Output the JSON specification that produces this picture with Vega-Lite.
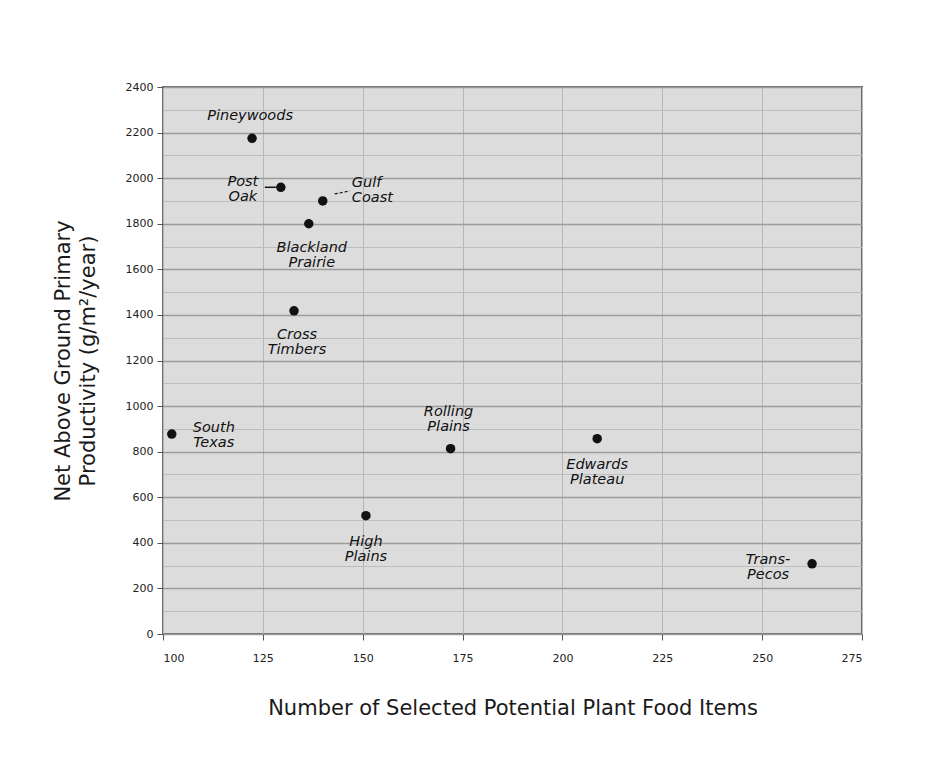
{
  "$schema": "https://vega.github.io/schema/vega-lite/v6.json",
  "autosize": "none",
  "padding": {"left": 163, "top": 87, "right": 73, "bottom": 127},
  "width": 699,
  "height": 547,
  "background": "white",
  "config": {
    "font": "DejaVu Sans",
    "view": {"fill": "#dcdcdc", "stroke": "#6e6e6e", "strokeWidth": 2},
    "text": {"fontStyle": "italic", "fontSize": 14.5, "color": "#111", "lineBreak": "\n", "lineHeight": 15, "baseline": "middle"}
  },
  "data": {
    "values": [
      {"region": "Pineywoods", "label": "Pineywoods", "items": 122.3, "npp": 2175},
      {"region": "Post Oak", "label": "Post\nOak", "items": 129.5, "npp": 1960},
      {"region": "Gulf Coast", "label": "Gulf\nCoast", "items": 140, "npp": 1900},
      {"region": "Blackland Prairie", "label": "Blackland\nPrairie", "items": 136.5, "npp": 1800},
      {"region": "Cross Timbers", "label": "Cross\nTimbers", "items": 132.8, "npp": 1418},
      {"region": "South Texas", "label": "South\nTexas", "items": 102.2, "npp": 877},
      {"region": "Rolling Plains", "label": "Rolling\nPlains", "items": 172, "npp": 813},
      {"region": "Edwards Plateau", "label": "Edwards\nPlateau", "items": 208.7, "npp": 857},
      {"region": "High Plains", "label": "High\nPlains", "items": 150.8, "npp": 519},
      {"region": "Trans-Pecos", "label": "Trans-\nPecos", "items": 262.5, "npp": 308}
    ]
  },
  "encoding": {
    "x": {
      "field": "items", "type": "quantitative",
      "scale": {"domain": [100, 275], "nice": false, "zero": false},
      "axis": {
        "values": [100, 125, 150, 175, 200, 225, 250, 275],
        "title": "Number of Selected Potential Plant Food Items",
        "titleFont": "DejaVu Sans", "titleFontSize": 21, "titleFontWeight": "normal", "titleColor": "#1a1a1a",
        "titlePadding": 34,
        "labelFontSize": 11, "labelColor": "#222", "labelPadding": 12,
        "tickSize": 6, "tickColor": "#555", "domain": false,
        "grid": true, "gridColor": "#b6b6b6", "gridWidth": 1
      }
    },
    "y": {
      "field": "npp", "type": "quantitative",
      "scale": {"domain": [0, 2400], "nice": false},
      "axis": {
        "values": [0, 100, 200, 300, 400, 500, 600, 700, 800, 900, 1000, 1100, 1200, 1300, 1400, 1500, 1600, 1700, 1800, 1900, 2000, 2100, 2200, 2300, 2400],
        "labelExpr": "datum.value % 200 === 0 ? datum.value : ''",
        "title": ["Net Above Ground Primary", "Productivity (g/m²/year)"],
        "titleFont": "DejaVu Sans", "titleFontSize": 21, "titleFontWeight": "normal", "titleColor": "#1a1a1a",
        "titleLineHeight": 25, "titlePadding": 27,
        "labelFontSize": 11, "labelColor": "#222", "labelPadding": 4,
        "tickSize": {"condition": {"test": "datum.value % 200 === 0", "value": 6}, "value": 0},
        "tickColor": "#555", "domain": false,
        "grid": true,
        "gridColor": {"condition": {"test": "datum.value % 200 === 0", "value": "#9c9c9c"}, "value": "#bdbdbd"},
        "gridWidth": {"condition": {"test": "datum.value % 200 === 0", "value": 1.5}, "value": 1}
      }
    }
  },
  "layer": [
    {
      "mark": {"type": "circle", "size": 90, "color": "#111", "opacity": 1}
    },
    {
      "transform": [{"filter": "datum.region === 'Post Oak'"}],
      "mark": {"type": "rule", "color": "#111", "strokeWidth": 1.5, "xOffset": -16, "x2Offset": -5},
      "encoding": {"x2": {"field": "items"}, "y2": {"field": "npp"}}
    },
    {
      "transform": [{"filter": "datum.region === 'Gulf Coast'"}],
      "mark": {"type": "rule", "color": "#111", "strokeWidth": 1.2, "strokeDash": [3, 2], "xOffset": 12, "yOffset": -7, "x2Offset": 27, "y2Offset": -10},
      "encoding": {"x2": {"field": "items"}, "y2": {"field": "npp"}}
    },
    {
      "transform": [{"filter": "datum.region === 'Pineywoods'"}],
      "mark": {"type": "text", "align": "center", "dx": -2, "dy": -22},
      "encoding": {"text": {"field": "label"}}
    },
    {
      "transform": [{"filter": "datum.region === 'Post Oak'"}],
      "mark": {"type": "text", "align": "center", "dx": -38, "dy": -5},
      "encoding": {"text": {"field": "label"}}
    },
    {
      "transform": [{"filter": "datum.region === 'Gulf Coast'"}],
      "mark": {"type": "text", "align": "left", "dx": 29, "dy": -18},
      "encoding": {"text": {"field": "label"}}
    },
    {
      "transform": [{"filter": "datum.region === 'South Texas'"}],
      "mark": {"type": "text", "align": "center", "dx": 42, "dy": -6},
      "encoding": {"text": {"field": "label"}}
    },
    {
      "transform": [{"filter": "datum.region === 'Blackland Prairie' || datum.region === 'Cross Timbers'"}],
      "mark": {"type": "text", "align": "center", "dx": 3, "dy": 24},
      "encoding": {"text": {"field": "label"}}
    },
    {
      "transform": [{"filter": "datum.region === 'High Plains' || datum.region === 'Edwards Plateau'"}],
      "mark": {"type": "text", "align": "center", "dx": 0, "dy": 26},
      "encoding": {"text": {"field": "label"}}
    },
    {
      "transform": [{"filter": "datum.region === 'Rolling Plains'"}],
      "mark": {"type": "text", "align": "center", "dx": -2, "dy": -37},
      "encoding": {"text": {"field": "label"}}
    },
    {
      "transform": [{"filter": "datum.region === 'Trans-Pecos'"}],
      "mark": {"type": "text", "align": "center", "dx": -44, "dy": -4},
      "encoding": {"text": {"field": "label"}}
    }
  ]
}
